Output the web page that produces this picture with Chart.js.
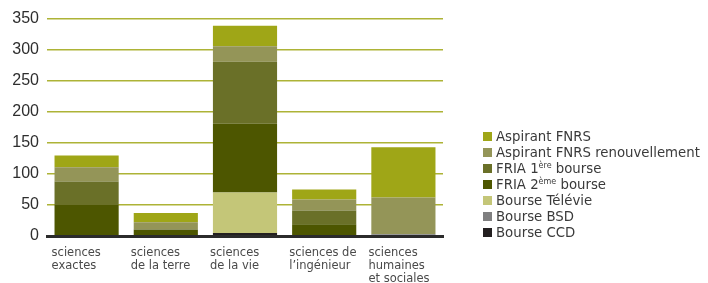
<!DOCTYPE html>
<html>
<head>
<meta charset="utf-8">
<script src="https://cdn.jsdelivr.net/npm/chart.js@4/dist/chart.umd.min.js"></script>
<style>
  html, body { margin: 0; padding: 0; background: #fff; }
  #wrap { position: relative; width: 708px; height: 283px; overflow: hidden; }
  #legend { position: absolute; left: 483px; top: 129px; font-family: "DejaVu Sans", sans-serif;
            font-size: 13.3px; color: #3a3a3a; line-height: 16px; }
  #legend div { white-space: nowrap; height: 16px; }
  #legend span.sw { display: inline-block; width: 9px; height: 9px; margin-right: 4px; vertical-align: -0px; }
  #legend sup { font-size: 8px; vertical-align: 5px; line-height: 0; }
</style>
</head>
<body>
<div id="wrap">
  <canvas id="c" width="708" height="283"></canvas>
  <div id="legend"></div>
</div>
<script>
/* ── Données ─────────────────────────────────────────── */
const categories = [
    ['sciences', 'exactes'],
    ['sciences', 'de la terre'],
    ['sciences', 'de la vie'],
    ['sciences de', 'l\u2019ingénieur'],
    ['sciences', 'humaines', 'et sociales']
];

// empilées du bas vers le haut
const seriesNames = ['Bourse CCD', 'Bourse BSD', 'Bourse Télévie', 'FRIA 2ème bourse',
                     'FRIA 1ère bourse', 'Aspirant FNRS renouvellement', 'Aspirant FNRS'];
const bourseCCD      = [0, 0, 5, 0, 0];
const bourseBSD      = [0, 0, 0, 0, 3];
const bourseTelevie  = [0, 0, 65, 0, 0];
const fria2          = [50, 10, 111, 19, 0];
const fria1          = [38, 1, 100, 22, 0];
const aspirantRenouv = [23, 11, 25, 18, 59];
const aspirantFNRS   = [19, 15, 33, 16, 81];
const seriesColors = ['#231f20', '#7f7f80', '#c4c678', '#4d5600', '#6a7028', '#949558', '#9fa617'];

const yTicks = [0, 50, 100, 150, 200, 250, 300, 350];

const allSeries = [bourseCCD, bourseBSD, bourseTelevie, fria2, fria1, aspirantRenouv, aspirantFNRS];

/* ── Graphique ───────────────────────────────────────── */
const chart = new Chart(document.getElementById('c'), {
    type: 'bar',
    data: {
        labels: categories,
        datasets: allSeries.map((d, i) => ({
            label: seriesNames[i],
            data: d,
            backgroundColor: seriesColors[i],
            borderWidth: 0,
            categoryPercentage: 1,
            barPercentage: 0.81
        }))
    },
    options: {
        responsive: false,
        animation: false,
        layout: { padding: { top: 19, right: 265, left: 0, bottom: 0 } },
        scales: {
            x: {
                stacked: true,
                grid: { display: false, drawTicks: false },
                border: { display: true, color: '#2b2b2b', width: 3, z: 1 },
                ticks: {
                    align: 'start',
                    labelOffset: -35,
                    padding: 10,
                    maxRotation: 0,
                    autoSkip: false,
                    color: '#4a4a4a',
                    font: { family: 'DejaVu Sans', size: 11.5, lineHeight: 1.16 }
                },
                afterFit: s => { s.height = 47; }
            },
            y: {
                stacked: true,
                min: 0,
                max: 350,
                afterBuildTicks: s => { s.ticks = yTicks.map(v => ({ value: v })); },
                grid: { color: '#adb336', lineWidth: 1.6, drawTicks: false },
                border: { display: false },
                ticks: {
                    padding: 8,
                    color: '#2e2e2e',
                    font: { family: 'Liberation Sans', size: 16 }
                },
                afterFit: s => { s.width = 47; }
            }
        },
        plugins: {
            legend: { display: false },
            tooltip: { enabled: false }
        }
    }
});

/* ── Légende HTML (exposants 1ère / 2ème) ─────────────── */
const legendEl = document.getElementById('legend');
chart.data.datasets.slice().reverse().forEach(ds => {
    const row = document.createElement('div');
    const sw = document.createElement('span');
    sw.className = 'sw';
    sw.style.background = ds.backgroundColor;
    row.appendChild(sw);
    const m = ds.label.match(/^(.*\d)(ère|ème)(.*)$/);
    if (m) {
        row.appendChild(document.createTextNode(m[1]));
        const sup = document.createElement('sup');
        sup.textContent = m[2];
        row.appendChild(sup);
        row.appendChild(document.createTextNode(m[3]));
    } else {
        row.appendChild(document.createTextNode(ds.label));
    }
    legendEl.appendChild(row);
});
</script>
</body>
</html>
